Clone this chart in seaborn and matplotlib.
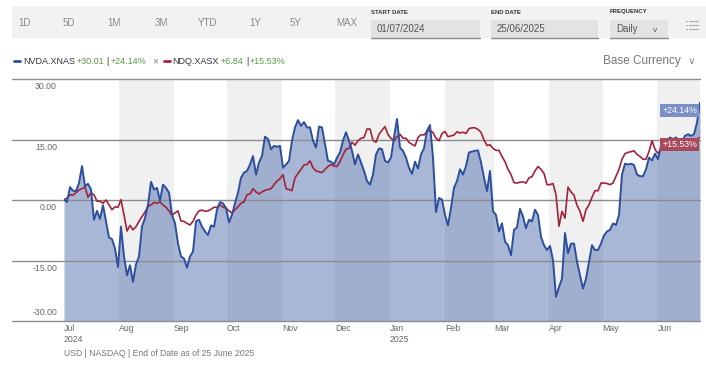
import matplotlib
matplotlib.use('Agg')
import matplotlib.pyplot as plt
import matplotlib.transforms as mtransforms
from matplotlib.patches import Rectangle
from matplotlib.lines import Line2D
import pandas as pd
import seaborn as sns

sns.set_style('white')
plt.rcParams['font.family'] = ['Liberation Sans', 'DejaVu Sans']

# cumulative % change, sampled evenly from 01/07/2024 to 25/06/2025
nvda = [
    0.1, -0.5, 3.2, 2.3, 2.2, 4.2, 8.4, 3.4, 4.0, 2.6,
    -4.9, -2.7, -4.7, -1.3, -5.3, -9.3, -9.7, -12.0, -16.6, -6.6,
    -14.0, -18.7, -16.2, -20.3, -16.0, -14.0, -6.6, -4.5, -1.2, 4.5,
    2.6, 3.0, -0.2, 3.8, 3.0, 1.8, -3.7, -5.8, -10.8, -14.0,
    -14.5, -16.8, -14.0, -12.8, -5.3, -4.9, -6.6, -7.8, -8.7, -6.3,
    -6.6, -2.4, -0.5, -0.8,
    -2.0, -5.5, -3.7, -0.8, 1.8, 5.5, 6.8, 7.2, 8.8, 10.9,
    6.3, 9.3, 10.9, 15.7, 15.1, 12.6, 13.4, 13.2, 13.4, 8.0,
    8.8, 9.7, 14.7, 18.0, 19.8, 18.4, 19.3, 18.0, 18.0, 14.7,
    13.0, 18.2, 18.0, 13.8, 9.7, 9.5, 8.8, 10.5, 11.8, 14.7,
    16.8, 14.7, 12.2, 8.8, 11.3, 9.3, 7.2, 4.7, 3.8, 6.3,
    11.3, 12.8, 12.6, 9.7,
    9.3, 10.5, 15.5, 20.1, 13.0, 12.2, 10.5, 8.0, 6.5, 9.5,
    7.8, 11.3, 12.8, 17.2, 18.6, 10.5, -3.0, 0.5, 0.1, -3.7,
    -6.3, -2.0, 3.0, 4.7, 7.6, 6.3, 8.4, 11.8, 12.0, 12.2,
    12.3, 9.3, 5.5, 2.2, 7.2, -2.8, -3.7, -7.8, -5.8, -10.3,
    -11.2, -13.7, -7.4, -6.8, -2.2, -4.1, -7.0, -4.9, -5.3, -2.4,
    -3.7, -9.1, -11.2,
    -12.4, -11.4, -14.9, -24.0, -21.6, -19.5, -8.2, -13.2, -10.8, -10.8,
    -15.3, -18.7, -22.0, -19.5, -15.3, -11.2, -12.4, -12.4, -10.8, -8.8,
    -7.8, -7.4, -5.8, -6.2, -3.7, 6.3, 9.0, 8.8, 9.0, 8.7,
    6.3, 5.9, 5.9, 7.6, 10.5, 9.8, 11.5, 10.1, 13.4, 13.7,
    14.8, 15.5, 15.1, 15.5, 14.8, 14.5, 15.9, 16.3, 15.9, 16.3,
    19.2, 24.14,
]

ndq = [
    0.0, 0.5, 1.3, 1.2, 1.8, 2.5, 2.8, 3.2, 0.7, 1.8,
    1.3, -0.3, -0.3, -0.8, 0.0, -1.2, -2.4, -1.7, -1.8, 0.1,
    -3.7, -7.7, -6.3, -7.4, -6.6, -5.3, -4.1, -3.0, -1.6, -1.2,
    -0.6, -0.8, -0.5, -1.2, -1.8, -2.7, -3.8, -3.2, -2.7, -5.2,
    -5.3, -5.8, -6.2, -5.3, -3.7, -2.7, -2.5, -2.8, -2.7, -2.3,
    -1.8, -1.8, -1.2, -1.8,
    -2.0, -2.7, -3.2, -2.4, -1.7, -0.8, -0.5, 1.3, 1.5, 2.8,
    2.0, 1.5, 2.0, 2.4, 2.6, 2.8, 3.8, 4.7, 5.3, 6.3,
    2.8, 2.6, 2.3, 5.5, 6.6, 7.6, 8.7, 8.8, 9.7, 8.0,
    7.2, 7.0, 6.8, 7.6, 8.3, 8.8, 8.4, 8.3, 9.5, 11.2,
    12.6, 12.8, 14.3, 13.6, 14.7, 15.3, 15.5, 17.6, 17.6, 14.8,
    14.3, 16.3, 17.3, 18.2,
    16.2, 15.3, 14.7, 15.7, 16.3, 15.3, 15.3, 14.3, 13.8, 13.4,
    15.5, 16.2, 16.1, 17.0, 17.3, 16.7, 15.3, 14.7, 16.5, 17.0,
    15.7, 15.9, 16.1, 16.9, 16.6, 16.8, 16.5, 17.7, 17.9, 17.9,
    17.5, 16.8, 14.9, 13.5, 13.7, 12.8, 12.3, 12.3, 10.8, 9.5,
    7.6, 6.3, 4.3, 4.2, 4.4, 4.5, 4.2, 5.5, 5.8, 7.2,
    8.3, 7.6, 6.6,
    3.8, 3.8, 4.1, 1.3, -6.5, -2.8, -4.5, 3.2, 2.0, 1.2,
    -1.3, -2.8, -5.3, -2.4, -1.2, 0.7, 2.3, 2.3, 4.2, 4.2,
    4.1, 3.8, 4.2, 5.9, 7.6, 10.1, 11.5, 11.8, 12.0, 12.2,
    11.3, 10.8, 10.1, 10.1, 12.0, 14.7, 12.6, 11.5, 12.6, 13.8,
    14.0, 15.1, 14.3, 14.5, 14.0, 14.5, 14.7, 15.1, 15.1, 14.8,
    15.1, 15.53,
]

start, end = pd.Timestamp('2024-07-01'), pd.Timestamp('2025-06-25')
nvda_dates = pd.date_range(start, end, periods=len(nvda))
ndq_dates = pd.date_range(start, end, periods=len(ndq))

month_starts = pd.date_range('2024-07-01', '2025-06-01', freq='MS')
month_labels = ['Jul\n2024', 'Aug', 'Sep', 'Oct', 'Nov', 'Dec',
                'Jan\n2025', 'Feb', 'Mar', 'Apr', 'May', 'Jun']
y_ticks = [30, 15, 0, -15, -30]

BLUE = '#2b4e9e'
RED = '#a2233a'
GREEN = '#5a9a44'
W, H = 706, 365


def fx(x):
    return x / W


def fy(y):
    return 1 - y / H


fig = plt.figure(figsize=(W / 100, H / 100), dpi=100)
ax = fig.add_axes([fx(64), fy(321), fx(636), 242 / H])

# alternating month bands
for i, m in enumerate(month_starts):
    if i % 2 == 1:
        m_end = month_starts[i + 1] if i + 1 < len(month_starts) else end
        ax.axvspan(m, m_end, color='#f0f0f0', lw=0, zorder=0)

ax.fill_between(nvda_dates, nvda, -30, color='#4866aa', alpha=0.47, lw=0, zorder=1)

# gridlines extend past the axis to the left
trans = mtransforms.blended_transform_factory(ax.transAxes, ax.transData)
for v in y_ticks:
    ax.plot([-(64 - 12) / 636, 1], [v, v], transform=trans, color='#8c8c8c',
            lw=1, zorder=2, clip_on=False)
    if v == -30:
        ax.text(-0.011, v + 1.0, f'{v:.2f}', transform=trans, ha='right', va='bottom',
                fontsize=6.3, color='#666666')
    else:
        ax.text(-0.011, v - 0.8, f'{v:.2f}', transform=trans, ha='right', va='top',
                fontsize=6.3, color='#666666')

sns.lineplot(x=ndq_dates, y=ndq, ax=ax, color=RED, linewidth=1.2, zorder=3)
sns.lineplot(x=nvda_dates, y=nvda, ax=ax, color=BLUE, linewidth=1.4, zorder=4)

ax.set_xlim(start, end)
ax.set_ylim(-30, 30)
ax.set_yticks([])
ax.set_xticks(month_starts)
ax.set_xticklabels(month_labels, ha='left', fontsize=6.3, color='#666666', linespacing=1.35)
ax.tick_params(axis='x', length=0, pad=2)
ax.set_xlabel('')
ax.set_ylabel('')
for s in ax.spines.values():
    s.set_visible(False)

# end-of-series labels
ax.annotate('+24.14%', xy=(end, nvda[-1]), xytext=(-3, -8), textcoords='offset pixels',
            ha='right', va='center', fontsize=6.3, color='white', zorder=6,
            bbox=dict(boxstyle='square,pad=0.25', fc='#7b8fc6', ec='none'))
ax.annotate('+15.53%', xy=(end, ndq[-1]), xytext=(-3, -7), textcoords='offset pixels',
            ha='right', va='center', fontsize=6.3, color='white', zorder=6,
            bbox=dict(boxstyle='square,pad=0.25', fc='#a8495c', ec='none'))

# toolbar
fig.patches.append(Rectangle((fx(12), fy(38)), fx(706 - 12), 32 / H,
                             transform=fig.transFigure, fc='#f2f2f2', ec='none'))
for lab, x in zip(['1D', '5D', '1M', '3M', 'YTD', '1Y', '5Y', 'MAX'],
                  [24, 69, 114, 161, 208, 255, 295, 347]):
    fig.text(fx(x), fy(23), lab, ha='center', va='center', fontsize=7, color='#8a8a8a')

for title, val, x0, x1 in [('START DATE', '01/07/2024', 371, 480),
                           ('END DATE', '25/06/2025', 491, 598),
                           ('FREQUENCY', 'Daily', 610, 668)]:
    fig.patches.append(Rectangle((fx(x0), fy(38)), fx(x1 - x0), 18 / H,
                                 transform=fig.transFigure, fc='#e3e3e3', ec='none'))
    fig.lines.append(Line2D([fx(x0), fx(x1)], [fy(38), fy(38)], transform=fig.transFigure,
                            color='#8a8a8a', lw=1))
    fig.text(fx(x0), fy(12), title, ha='left', va='center', fontsize=4.3,
             fontweight='bold', color='#333333')
    fig.text(fx(x0 + 6), fy(29), val, ha='left', va='center', fontsize=7, color='#555555')
fig.text(fx(655), fy(30), 'v', ha='center', va='center', fontsize=6, color='#555555')
for k in range(3):
    yy = fy(21 + k * 4)
    fig.lines.append(Line2D([fx(686), fx(687)], [yy, yy], transform=fig.transFigure,
                            color='#aaaaaa', lw=0.8))
    fig.lines.append(Line2D([fx(689), fx(698)], [yy, yy], transform=fig.transFigure,
                            color='#aaaaaa', lw=0.8))

# legend row, pieces placed one after another
fig.canvas.draw()
renderer = fig.canvas.get_renderer()


def chain(x, pieces, size=6.5):
    for txt, col, gap in pieces:
        t = fig.text(fx(x), fy(61), txt, ha='left', va='center', fontsize=size, color=col)
        bb = t.get_window_extent(renderer)
        x += bb.width + gap
    return x


fig.lines.append(Line2D([fx(14), fx(20)], [fy(61), fy(61)], transform=fig.transFigure,
                        color=BLUE, lw=2))
x_end = chain(23, [('NVDA.XNAS', '#333333', 2), ('+30.01', GREEN, 2), ('|', '#333333', 2),
                   ('+24.14%', GREEN, 0)])
fig.text(fx(x_end + 9), fy(61), '×', ha='center', va='center', fontsize=7.5, color='#888888')
fig.lines.append(Line2D([fx(x_end + 17), fx(x_end + 23)], [fy(61), fy(61)],
                        transform=fig.transFigure, color=RED, lw=2))
chain(x_end + 26, [('NDQ.XASX', '#333333', 2), ('+6.84', GREEN, 2), ('|', '#333333', 2),
                   ('+15.53%', GREEN, 0)])

fig.text(fx(681), fy(61), 'Base Currency', ha='right', va='center', fontsize=8.5,
         color='#777777')
fig.text(fx(691), fy(61), '∨', ha='center', va='center', fontsize=7.5, color='#888888',
         family=['DejaVu Sans'])

fig.text(fx(64), fy(354), 'USD | NASDAQ | End of Date as of 25 June 2025', ha='left',
         va='center', fontsize=6.2, color='#777777')

fig.savefig('out.png', dpi=100)
